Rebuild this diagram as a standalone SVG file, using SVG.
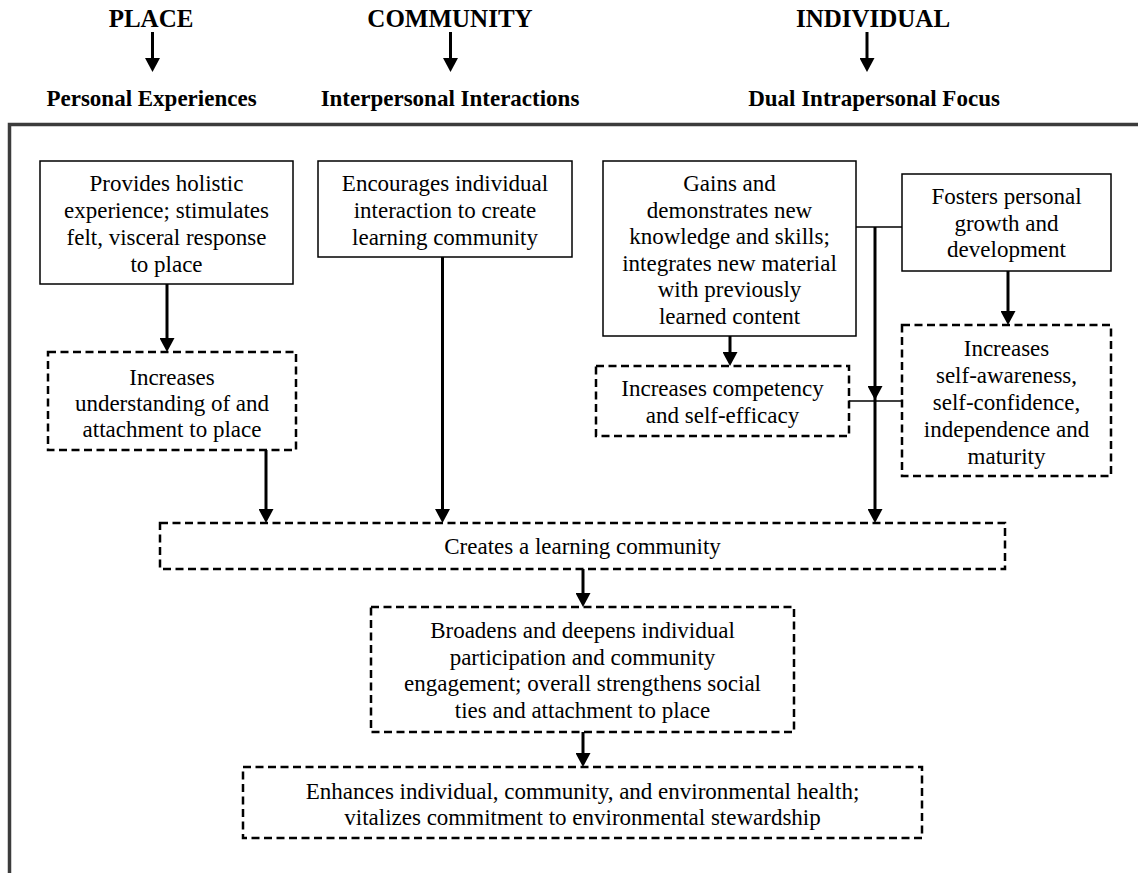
<svg xmlns="http://www.w3.org/2000/svg" width="1138" height="873" viewBox="0 0 1138 873">
<style>
  text { font-family: "Liberation Serif", "Times New Roman", serif; fill: #000; text-anchor: middle; }
  .t { font-size: 23px; }
  .h1 { font-size: 25px; font-weight: bold; }
  .h2 { font-size: 23px; font-weight: bold; }
  .solid { fill: #fff; stroke: #000; stroke-width: 1.5; }
  .dash { fill: #fff; stroke: #000; stroke-width: 2.5; stroke-dasharray: 8 4.5; }
  .arr { fill: none; stroke: #000; stroke-width: 3; marker-end: url(#ah); }
  .thin { fill: none; stroke: #000; stroke-width: 1.5; }
  .frame { fill: none; stroke: #3c3c3c; stroke-width: 3.5; }
</style>
<defs>
  <marker id="ah" viewBox="0 0 14 15" markerWidth="14" markerHeight="15" refX="8" refY="7.5" orient="auto" markerUnits="userSpaceOnUse">
    <path d="M0,0 L14,7.5 L0,15 Z" fill="#000"/>
  </marker>
</defs>
<rect width="1138" height="873" fill="#fff"/>

<path class="frame" d="M9.5,873 V124.5 H1138"/>

<g id="connectors">
  <line class="arr" x1="152.5" y1="32" x2="152.5" y2="66"/>
  <line class="arr" x1="450.5" y1="32" x2="450.5" y2="66"/>
  <line class="arr" x1="867" y1="32" x2="867" y2="66"/>
  <line class="arr" x1="167" y1="284" x2="167" y2="346"/>
  <line class="arr" x1="266" y1="450" x2="266" y2="517"/>
  <line class="arr" x1="442.5" y1="257" x2="442.5" y2="517"/>
  <line class="arr" x1="730" y1="336" x2="730" y2="360"/>
  <line class="arr" x1="1008" y1="271" x2="1008" y2="319"/>
  <line class="thin" x1="856" y1="227" x2="902" y2="227"/>
  <line class="thin" x1="849" y1="401" x2="902" y2="401"/>
  <line class="arr" x1="875" y1="227" x2="875" y2="394"/>
  <line class="arr" x1="875" y1="394" x2="875" y2="517"/>
  <line class="arr" x1="583" y1="569" x2="583" y2="601"/>
  <line class="arr" x1="583" y1="732" x2="583" y2="761"/>
</g>

<g id="header-place">
  <text class="h1" x="151" y="27">PLACE</text>
  <text class="h2" x="151.5" y="106">Personal Experiences</text>
</g>
<g id="header-community">
  <text class="h1" x="450" y="27">COMMUNITY</text>
  <text class="h2" x="450" y="106">Interpersonal Interactions</text>
</g>
<g id="header-individual">
  <text class="h1" x="873" y="27">INDIVIDUAL</text>
  <text class="h2" x="874" y="106">Dual Intrapersonal Focus</text>
</g>

<g id="node-holistic">
  <rect class="solid" x="40" y="161" width="253" height="123"/>
  <text class="t" x="166.5" y="191">Provides holistic</text>
  <text class="t" x="166.5" y="218">experience; stimulates</text>
  <text class="t" x="166.5" y="245">felt, visceral response</text>
  <text class="t" x="166.5" y="272">to place</text>
</g>
<g id="node-encourages">
  <rect class="solid" x="318" y="161" width="254" height="96"/>
  <text class="t" x="445" y="191">Encourages individual</text>
  <text class="t" x="445" y="218">interaction to create</text>
  <text class="t" x="445" y="245">learning community</text>
</g>
<g id="node-gains">
  <rect class="solid" x="603" y="161" width="253" height="175"/>
  <text class="t" x="729.5" y="191">Gains and</text>
  <text class="t" x="729.5" y="217.5">demonstrates new</text>
  <text class="t" x="729.5" y="244">knowledge and skills;</text>
  <text class="t" x="729.5" y="270.5">integrates new material</text>
  <text class="t" x="729.5" y="297">with previously</text>
  <text class="t" x="729.5" y="323.5">learned content</text>
</g>
<g id="node-fosters">
  <rect class="solid" x="902" y="174" width="209" height="97"/>
  <text class="t" x="1006.5" y="204">Fosters personal</text>
  <text class="t" x="1006.5" y="230.5">growth and</text>
  <text class="t" x="1006.5" y="257">development</text>
</g>
<g id="node-understanding">
  <rect class="dash" x="48" y="352" width="248" height="98"/>
  <text class="t" x="172" y="384.5">Increases</text>
  <text class="t" x="172" y="411">understanding of and</text>
  <text class="t" x="172" y="437">attachment to place</text>
</g>
<g id="node-competency">
  <rect class="dash" x="596" y="366" width="253" height="70"/>
  <text class="t" x="722.5" y="396">Increases competency</text>
  <text class="t" x="722.5" y="423">and self-efficacy</text>
</g>
<g id="node-selfawareness">
  <rect class="dash" x="902" y="325" width="209" height="151"/>
  <text class="t" x="1006.5" y="356">Increases</text>
  <text class="t" x="1006.5" y="383">self-awareness,</text>
  <text class="t" x="1006.5" y="410">self-confidence,</text>
  <text class="t" x="1006.5" y="437">independence and</text>
  <text class="t" x="1006.5" y="463.5">maturity</text>
</g>
<g id="node-creates">
  <rect class="dash" x="160" y="523" width="845" height="46"/>
  <text class="t" x="582.5" y="554">Creates a learning community</text>
</g>
<g id="node-broadens">
  <rect class="dash" x="371" y="607" width="423" height="125"/>
  <text class="t" x="582.5" y="638">Broadens and deepens individual</text>
  <text class="t" x="582.5" y="664.5">participation and community</text>
  <text class="t" x="582.5" y="691">engagement; overall strengthens social</text>
  <text class="t" x="582.5" y="718">ties and attachment to place</text>
</g>
<g id="node-enhances">
  <rect class="dash" x="243" y="767" width="679" height="71"/>
  <text class="t" x="582.5" y="799">Enhances individual, community, and environmental health;</text>
  <text class="t" x="582.5" y="825">vitalizes commitment to environmental stewardship</text>
</g>
</svg>
